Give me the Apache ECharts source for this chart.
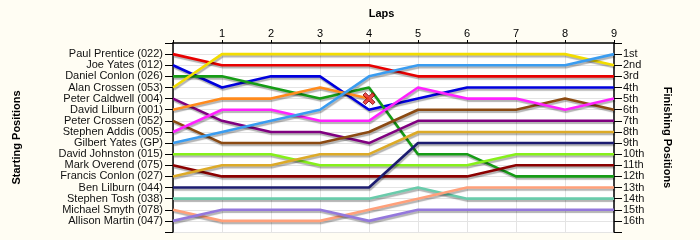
<!DOCTYPE html>
<html><head><meta charset="utf-8">
<script src="https://cdn.jsdelivr.net/npm/echarts@6/dist/echarts.min.js"></script>
<style>html,body{margin:0;padding:0;background:#fffdf3}#c{width:700px;height:240px}</style>
</head><body><div id="c"></div>
<script>
const laps = [0,1,2,3,4,5,6,7,8,9];
const startNames = ["Paul Prentice (022)","Joe Yates (012)","Daniel Conlon (026)","Alan Crossen (053)","Peter Caldwell (004)","David Lilburn (001)","Peter Crossen (052)","Stephen Addis (005)","Gilbert Yates (GP)","David Johnston (015)","Mark Overend (075)","Francis Conlon (027)","Ben Lilburn (044)","Stephen Tosh (038)","Michael Smyth (078)","Allison Martin (047)"];
const finishLabels = ["1st","2nd","3rd","4th","5th","6th","7th","8th","9th","10th","11th","12th","13th","14th","15th","16th"];
// position of each driver at laps 0..9 (shorter array = retired)
const posPrentice = [1,2,2,2,2,3,3,3,3,3];
const posJoeYates = [2,4,3,3,6,5,4,4,4,4];
const posDanielConlon = [3,3,4,5,4,10,10,12,12,12];
const posAlanCrossen = [4,1,1,1,1,1,1,1,1,2];
const posCaldwell = [5,7,8,8,9,7,7,7,7,7];
const posDavidLilburn = [6,5,5,4,5];
const posPeterCrossen = [7,9,9,9,8,6,6,6,5,6];
const posAddis = [8,6,6,7,7,4,5,5,6,5];
const posGilbertYates = [9,8,7,6,3,2,2,2,2,1];
const posJohnston = [10,10,10,11,11,11,11,10,10,10];
const posOverend = [11,12,12,12,12,12,12,11,11,11];
const posFrancisConlon = [12,11,11,10,10,8,8,8,8,8];
const posBenLilburn = [13,13,13,13,13,9,9,9,9,9];
const posTosh = [14,14,14,14,14,13,14,14,14,14];
const posSmyth = [15,16,16,16,15,14,13,13,13,13];
const posMartin = [16,15,15,15,16,15,15,15,15,15];
const positions = [posPrentice,posJoeYates,posDanielConlon,posAlanCrossen,posCaldwell,posDavidLilburn,posPeterCrossen,posAddis,posGilbertYates,posJohnston,posOverend,posFrancisConlon,posBenLilburn,posTosh,posSmyth,posMartin];
const colors = ["#e80000","#0000dd","#169c16","#f2dc00","#800080","#ff8a1c","#8b4a12","#ff22ff","#3a9cf0","#86f01a","#8b0000","#dcaa28","#1c1c70","#6acbab","#ffa07a","#9478dc"];

const series = positions.map((p, i) => ({
  type: 'line', name: startNames[i], symbol: 'none', animation: false,
  data: p.map((v, k) => [laps[k], v]),
  lineStyle: { color: colors[i], width: 2.6, shadowColor: 'rgba(0,0,0,0.3)', shadowOffsetX: 1, shadowOffsetY: 2, shadowBlur: 1 },
  itemStyle: { color: colors[i] }
}));
// retired marker(s)
const retired = [];
positions.forEach(p => { if (p.length < laps.length) retired.push([laps[p.length-1], p[p.length-1]]); });
series.push({
  type: 'scatter', animation: false, data: retired, z: 10,
  symbol: 'path://M2,0 L5,3 L8,0 L10,2 L7,5 L10,8 L8,10 L5,7 L2,10 L0,8 L3,5 L0,2 Z',
  symbolSize: 12, itemStyle: { color: '#e82020', borderColor: '#7a0000', borderWidth: 1 }
});

const chart = echarts.init(document.getElementById('c'), null, { renderer: 'canvas' });
const font = 'Liberation Sans, Arial, sans-serif';
const splitStyle = { show: true, lineStyle: { color: '#e4e4e4', width: 1 } };
chart.setOption({
  backgroundColor: '#fffdf3',
  textStyle: { fontFamily: font },
  grid: { left: 173, right: 86, top: 43, bottom: 8, show: true, backgroundColor: '#ffffff', borderWidth: 0 },
  xAxis: {
    type: 'value', position: 'top', min: 0, max: 9, interval: 1,
    name: 'Laps', nameLocation: 'middle', nameGap: 24,
    nameTextStyle: { fontWeight: 'bold', fontSize: 11, color: '#000', fontFamily: font, padding: [0, 24, 0, 0] },
    axisLine: { show: true, lineStyle: { color: '#000', width: 1.5 } },
    axisTick: { show: true, length: 3, lineStyle: { color: '#000' } },
    axisLabel: { margin: 4, fontSize: 11, color: '#000', fontFamily: font, formatter: v => v === 0 ? '' : String(v) },
    splitLine: splitStyle
  },
  yAxis: [{
    type: 'value', position: 'left', inverse: true, min: 0, max: 17, interval: 1,
    name: 'Starting Positions', nameLocation: 'middle', nameGap: 151,
    nameTextStyle: { fontWeight: 'bold', fontSize: 11, color: '#000', fontFamily: font },
    axisLine: { show: true, lineStyle: { color: '#000', width: 1.5 } },
    axisTick: { show: true, length: 8, lineStyle: { color: '#000' } },
    axisLabel: { margin: 10, fontSize: 11, color: '#111', fontFamily: font, formatter: v => startNames[v-1] || '' },
    splitLine: splitStyle
  }, {
    type: 'value', position: 'right', inverse: true, min: 0, max: 17, interval: 1,
    name: 'Finishing Positions', nameLocation: 'middle', nameGap: 48, nameRotate: -90,
    nameTextStyle: { fontWeight: 'bold', fontSize: 11, color: '#000', fontFamily: font },
    axisLine: { show: true, lineStyle: { color: '#000', width: 1.5 } },
    axisTick: { show: true, length: 8, lineStyle: { color: '#000' } },
    axisLabel: { margin: 9, fontSize: 11, color: '#111', fontFamily: font, formatter: v => finishLabels[v-1] || '' },
    splitLine: { show: false }
  }],
  series: series
});
</script></body></html>
